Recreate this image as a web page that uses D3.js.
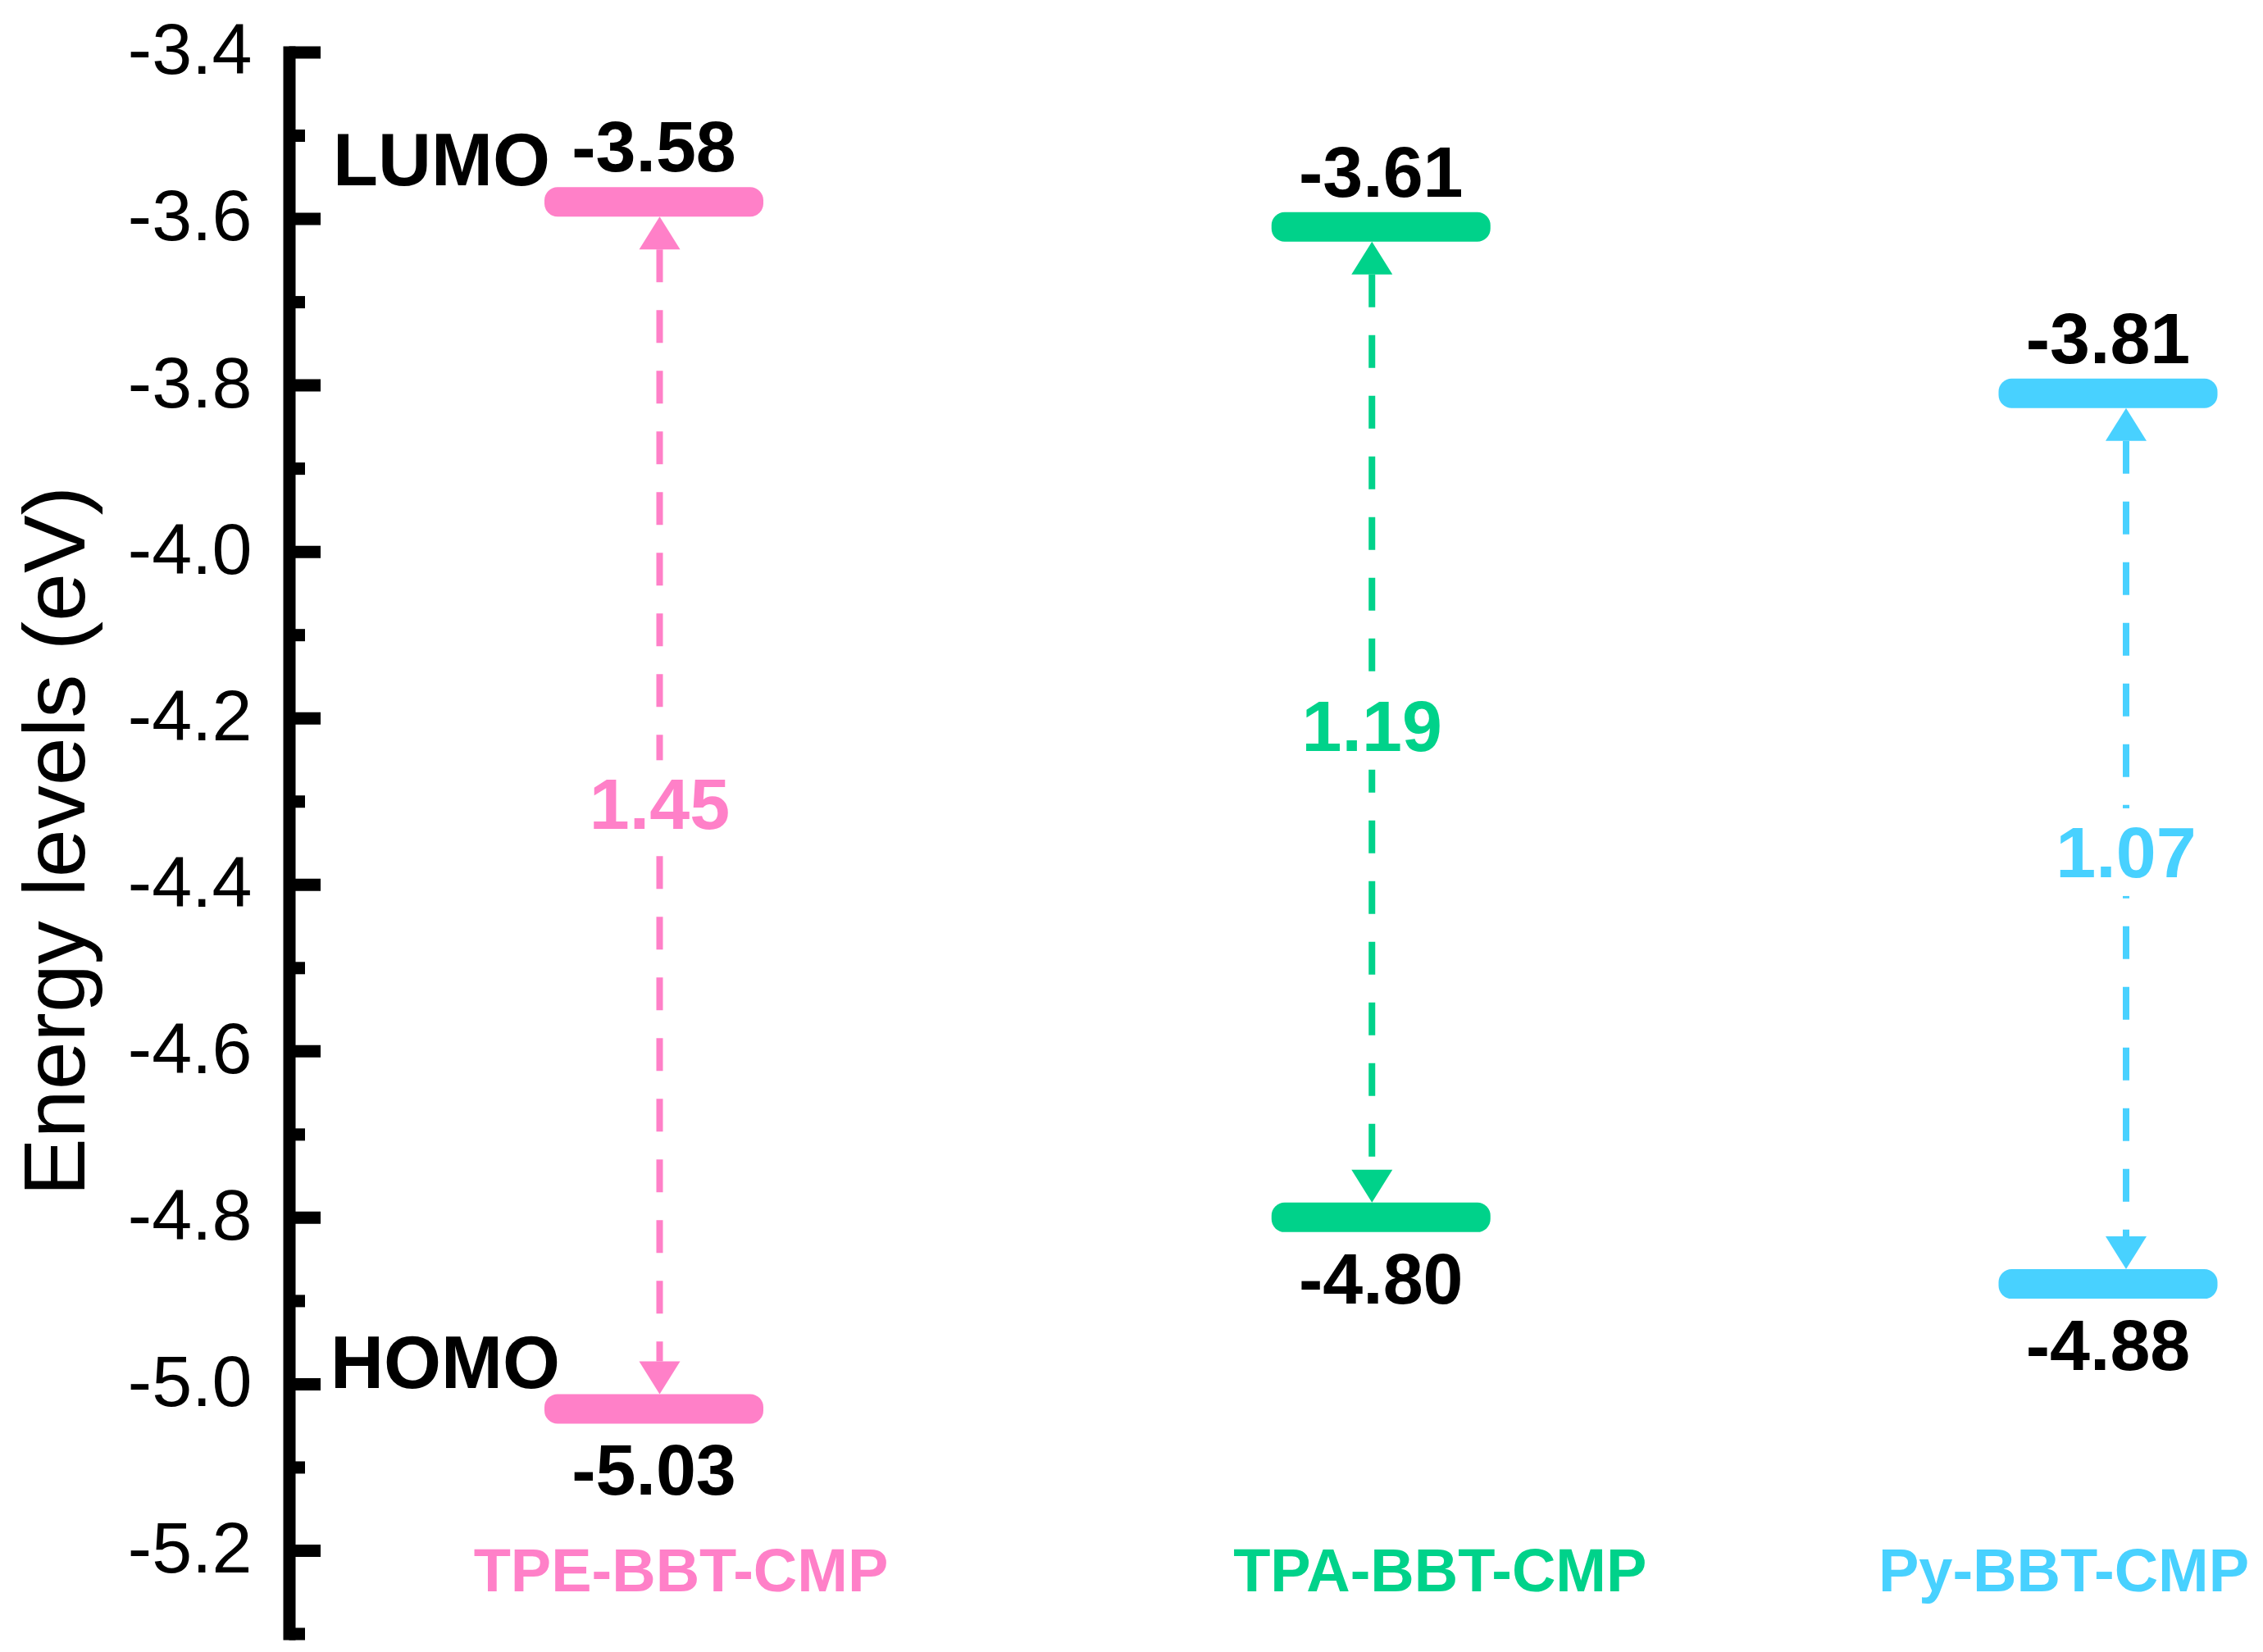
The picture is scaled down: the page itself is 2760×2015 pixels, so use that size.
<!DOCTYPE html>
<html>
<head>
<meta charset="utf-8">
<script src="https://cdn.jsdelivr.net/npm/d3@7"></script>
<style>
  html, body { margin: 0; padding: 0; background: #fff; }
  svg { display: block; }
  text { font-family: "Liberation Sans", Arial, Helvetica, sans-serif; }
</style>
</head>
<body>
<svg id="chart" width="2760" height="2015"></svg>
<script>
// ---- data ----
const categories = ["TPE-BBT-CMP", "TPA-BBT-CMP", "Py-BBT-CMP"];
const lumo = [-3.58, -3.61, -3.81];
const homo = [-5.03, -4.80, -4.88];
const gaps = ["1.45", "1.19", "1.07"];
const lumoLabels = ["-3.58", "-3.61", "-3.81"];
const homoLabels = ["-5.03", "-4.80", "-4.88"];
const colors = ["#FF80C8", "#00D28A", "#48D1FF"];
const majorTicks = [-3.4, -3.6, -3.8, -4.0, -4.2, -4.4, -4.6, -4.8, -5.0, -5.2];
const minorTicks = [-3.5, -3.7, -3.9, -4.1, -4.3, -4.5, -4.7, -4.9, -5.1, -5.3];
const yTitle = "Energy levels (eV)";

// ---- layout ----
const svg = d3.select("#chart");
const axisX = 352.5;
const y = d3.scaleLinear().domain([-5.3, -3.4]).range([1992.5, 63.5]);
const x = d3.scalePoint().domain(categories).range([797.5, 2571]);
const barW = 267, barH = 36;
const arrowShift = [7, -11, 22];
const catShift = [33, 72, -54];
const gapShift = [-3, 3, 15];

// major axis with labels
const gMajor = svg.append("g").attr("transform", `translate(${axisX},0)`)
  .call(d3.axisLeft(y).tickValues(majorTicks).tickSize(-38.5).tickSizeOuter(0)
    .tickPadding(45).tickFormat(d => d.toFixed(1)));
gMajor.select(".domain").attr("stroke", "#000").attr("stroke-width", 15)
  .attr("stroke-linecap", "square");
gMajor.selectAll(".tick line").attr("stroke", "#000").attr("stroke-width", 15);
gMajor.selectAll(".tick text").attr("font-size", 88).attr("fill", "#000")
  .attr("dy", "0.3em")
  .style("font-family", '"Liberation Sans", Arial, sans-serif');

// minor ticks
const gMinor = svg.append("g").attr("transform", `translate(${axisX},0)`)
  .call(d3.axisLeft(y).tickValues(minorTicks).tickSize(-19.5).tickSizeOuter(0).tickFormat(""));
gMinor.select(".domain").remove();
gMinor.selectAll(".tick line").attr("stroke", "#000").attr("stroke-width", 15);

// y title
svg.append("text")
  .attr("transform", `translate(103,1026) rotate(-90)`)
  .attr("text-anchor", "middle")
  .attr("font-size", 106)
  .attr("fill", "#000")
  .text(yTitle);

// arrows
const triH = 40, triW = 50;
categories.forEach((c, i) => {
  const ax = x(c) + arrowShift[i];
  const yTop = y(lumo[i]) + barH / 2;
  const yBot = y(homo[i]) - barH / 2;
  svg.append("line")
    .attr("x1", ax).attr("x2", ax)
    .attr("y1", yTop + triH).attr("y2", yBot - triH)
    .attr("stroke", colors[i]).attr("stroke-width", 8)
    .attr("stroke-dasharray", "40,34");
  svg.append("path")
    .attr("d", `M${ax},${yTop} L${ax - triW / 2},${yTop + triH} L${ax + triW / 2},${yTop + triH} Z`)
    .attr("fill", colors[i]);
  svg.append("path")
    .attr("d", `M${ax},${yBot} L${ax - triW / 2},${yBot - triH} L${ax + triW / 2},${yBot - triH} Z`)
    .attr("fill", colors[i]);

  // gap label with white background
  const ym = (y(lumo[i]) + y(homo[i])) / 2 + gapShift[i];
  const t = svg.append("text")
    .attr("x", ax).attr("y", ym + 32)
    .attr("text-anchor", "middle")
    .attr("font-size", 88).attr("font-weight", "bold")
    .attr("fill", colors[i])
    .text(gaps[i]);
  const bb = t.node().getBBox();
  svg.insert("rect", () => t.node())
    .attr("x", bb.x - 4).attr("y", bb.y - 4)
    .attr("width", bb.width + 8).attr("height", bb.height + 8)
    .attr("fill", "#fff");
});

// bars
categories.forEach((c, i) => {
  [lumo[i], homo[i]].forEach(v => {
    svg.append("rect")
      .attr("x", x(c) - barW / 2).attr("y", y(v) - barH / 2)
      .attr("width", barW).attr("height", barH)
      .attr("rx", 16).attr("ry", 16)
      .attr("fill", colors[i]);
  });
  svg.append("text")
    .attr("x", x(c)).attr("y", y(lumo[i]) - 37)
    .attr("text-anchor", "middle")
    .attr("font-size", 88).attr("font-weight", "bold").attr("fill", "#000")
    .text(lumoLabels[i]);
  svg.append("text")
    .attr("x", x(c)).attr("y", y(homo[i]) + 105)
    .attr("text-anchor", "middle")
    .attr("font-size", 88).attr("font-weight", "bold").attr("fill", "#000")
    .text(homoLabels[i]);
  svg.append("text")
    .attr("x", x(c) + catShift[i]).attr("y", 1941)
    .attr("text-anchor", "middle")
    .attr("font-size", 74).attr("font-weight", "bold").attr("fill", colors[i])
    .text(c);
});

// LUMO / HOMO markers
svg.append("text")
  .attr("x", 406).attr("y", y(lumo[0]) - 20)
  .attr("font-size", 90).attr("font-weight", "bold").attr("fill", "#000")
  .text("LUMO");
svg.append("text")
  .attr("x", 403).attr("y", y(homo[0]) - 25)
  .attr("font-size", 90).attr("font-weight", "bold").attr("fill", "#000")
  .text("HOMO");
</script>
</body>
</html>
